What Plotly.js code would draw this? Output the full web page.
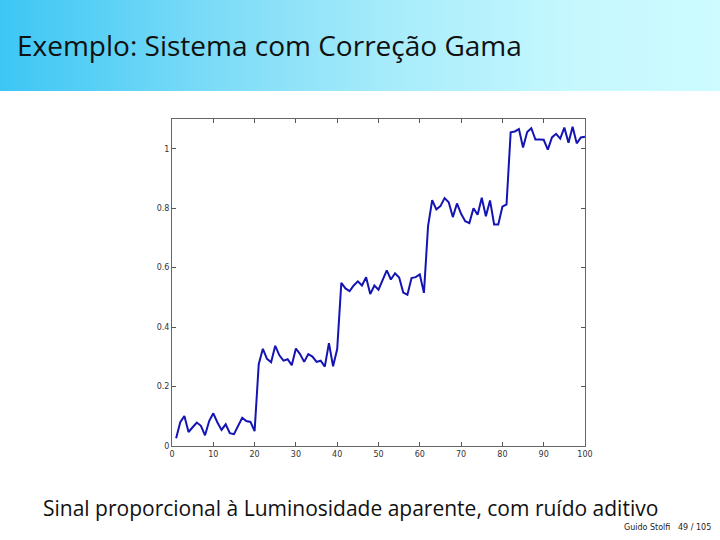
<!DOCTYPE html>
<html>
<head>
<meta charset="utf-8">
<script src="https://cdn.plot.ly/plotly-3.0.1.min.js"></script>
<style>
  html, body { margin: 0; padding: 0; background: #ffffff; }
  #wrap { position: relative; width: 720px; height: 540px; overflow: hidden; }
  #band { position: absolute; left: 0; top: 0; width: 720px; height: 91px;
          background: linear-gradient(to right, #3cc6f4 0%, #7ddcf8 30%, #a8ecfb 55%, #c6f8fe 80%, #cdfbff 100%); }
  #chart { position: absolute; left: 0; top: 0; width: 720px; height: 540px; }
</style>
</head>
<body>
<div id="wrap">
  <div id="band"></div>
  <div id="chart"></div>
</div>
<script>
// sample index
const sampleIndex = Array.from({length: 100}, (_, i) => i + 1);
// signal values (noisy staircase)
const signalValues = [
  0.026, 0.080, 0.101, 0.047, 0.063, 0.079, 0.068, 0.036, 0.084, 0.110,
  0.079, 0.054, 0.073, 0.043, 0.040, 0.065, 0.095, 0.084, 0.081, 0.050,
  0.275, 0.327, 0.293, 0.282, 0.337, 0.305, 0.287, 0.292, 0.272, 0.328,
  0.309, 0.283, 0.309, 0.301, 0.283, 0.287, 0.267, 0.346, 0.268, 0.326,
  0.549, 0.530, 0.521, 0.540, 0.554, 0.540, 0.568, 0.511, 0.540, 0.526,
  0.561, 0.591, 0.560, 0.581, 0.567, 0.516, 0.509, 0.565, 0.568, 0.577,
  0.515, 0.740, 0.827, 0.796, 0.807, 0.834, 0.820, 0.770, 0.816, 0.781,
  0.756, 0.750, 0.800, 0.778, 0.835, 0.773, 0.826, 0.745, 0.745, 0.805,
  0.813, 1.055, 1.058, 1.066, 1.004, 1.056, 1.069, 1.031, 1.031, 1.030,
  0.997, 1.038, 1.050, 1.034, 1.071, 1.020, 1.074, 1.018, 1.038, 1.040
];
const xTickVals = [0, 10, 20, 30, 40, 50, 60, 70, 80, 90, 100];
const yTickVals = [0, 0.2, 0.4, 0.6, 0.8, 1];
const yTickText = ["0", "0.2", "0.4", "0.6", "0.8", "1"];

const titleText = "Exemplo: Sistema com Correção Gama";
const captionText = "Sinal proporcional à Luminosidade aparente, com ruído aditivo";
const footerText = "Guido Stolfi&nbsp;&nbsp;&nbsp;49 / 105";

const W = 720, H = 540;
const L = 172, R = 585, T = 119, B = 446;
const px2x = p => (p - L) / (R - L);
const px2y = p => (B - p) / (B - T);

const trace = {
  x: sampleIndex,
  y: signalValues,
  type: 'scatter',
  mode: 'lines',
  line: { color: '#1414b4', width: 2 },
  hoverinfo: 'skip'
};

const axisFont = { family: 'DejaVu Sans, Arial, sans-serif', size: 8, color: '#333333' };

const layout = {
  width: W, height: H,
  margin: { l: L, r: W - R, t: T, b: H - B, pad: 0 },
  paper_bgcolor: 'rgba(0,0,0,0)',
  plot_bgcolor: '#ffffff',
  showlegend: false,
  title: {
    text: titleText,
    font: { family: 'Open Sans, Noto Sans, sans-serif', size: 28, color: '#111111' },
    x: 17 / W, xref: 'container', xanchor: 'left',
    y: 1 - 46 / H, yref: 'container', yanchor: 'middle'
  },
  xaxis: {
    range: [0, 100],
    tickvals: xTickVals,
    ticks: 'inside', ticklen: 4, tickcolor: '#555555', tickwidth: 1,
    showline: true, linecolor: '#666666', linewidth: 1, mirror: 'ticks',
    showgrid: false, zeroline: false,
    tickfont: axisFont, automargin: false
  },
  yaxis: {
    range: [0, 1.1],
    tickvals: yTickVals, ticktext: yTickText,
    ticks: 'inside', ticklen: 4, tickcolor: '#555555', tickwidth: 1,
    showline: true, linecolor: '#666666', linewidth: 1, mirror: 'ticks',
    showgrid: false, zeroline: false,
    tickfont: axisFont, automargin: false
  },
  annotations: [
    {
      text: captionText, xref: 'paper', yref: 'paper',
      x: px2x(41), y: px2y(508), xanchor: 'left', yanchor: 'middle',
      showarrow: false,
      font: { family: 'Open Sans, Noto Sans, sans-serif', size: 21, color: '#111111' }
    },
    {
      text: footerText, xref: 'paper', yref: 'paper',
      x: px2x(713), y: px2y(527), xanchor: 'right', yanchor: 'middle',
      showarrow: false,
      font: { family: 'DejaVu Sans, sans-serif', size: 8, color: '#222222' }
    }
  ]
};

Plotly.newPlot('chart', [trace], layout, { staticPlot: true, displayModeBar: false });
</script>
</body>
</html>
